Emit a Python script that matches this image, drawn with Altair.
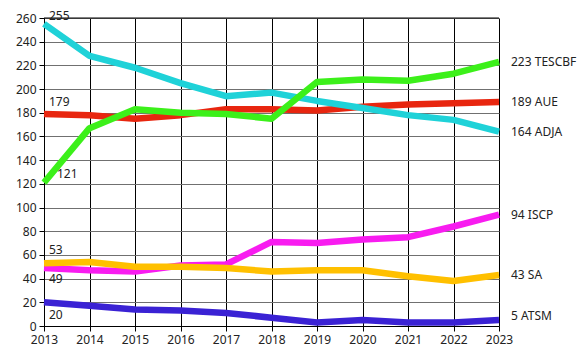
import altair as alt
import pandas as pd

years = list(range(2013, 2024))
series_names = ["ATSM", "ISCP", "SA", "AUE", "ADJA", "TESCBF"]
atsm = [20, 17, 14, 13, 11, 7, 3, 5, 3, 3, 5]
iscp = [49, 47, 46, 51, 52, 71, 70, 73, 75, 84, 94]
sa = [53, 54, 50, 50, 49, 46, 47, 47, 42, 38, 43]
aue = [179, 178, 175, 178, 183, 183, 182, 185, 187, 188, 189]
adja = [255, 228, 218, 205, 194, 197, 190, 184, 178, 174, 164]
tescbf = [121, 167, 183, 180, 179, 175, 206, 208, 207, 213, 223]
values = [atsm, iscp, sa, aue, adja, tescbf]
colors = ["#3a22d4", "#f81cf0", "#ffc000", "#e8260f", "#1fd2d8", "#3cf01a"]
end_labels = ["5 ATSM", "94  ISCP", "43 SA", "189 AUE", "164 ADJA", "223 TESCBF"]
start_labels = ["20", "49", "53", "179", "255", "121"]
y_ticks = list(range(0, 261, 20))
# label offsets (styling only)
start_dx = [5, 5, 5, 5, 5, 13]
start_dy = [13, 11, -13, -12, -8, -9]
end_dy = [-4, 0, 0, 0, 0, 0]

FONT = "Noto Sans"
FS = 12

rows = []
for name, vals in zip(series_names, values):
    for y, v in zip(years, vals):
        rows.append({"series": name, "year": y, "value": v})
df = pd.DataFrame(rows)

xs = alt.Scale(domain=[2013, 2023], nice=False, zero=False)
ys = alt.Scale(domain=[0, 260], nice=False)

x_axis = alt.Axis(
    values=years, format="d", title=None, grid=True, gridColor="#000000",
    gridWidth=1, domainColor="#000000", tickColor="#000000", tickSize=5,
    labelFontSize=FS, labelColor="#222222", labelPadding=3, labelFont=FONT,
    labelFlush=False, labelOverlap=False)
y_axis = alt.Axis(
    values=y_ticks, title=None, grid=True, gridColor="#707070",
    gridWidth=1, domainColor="#000000", tickColor="#000000", tickSize=5,
    labelFontSize=FS, labelColor="#222222", labelPadding=3, labelFont=FONT,
    labelOverlap=False, labelFlush=False)

X = alt.X("year:Q", scale=xs, axis=x_axis)
Y = alt.Y("value:Q", scale=ys, axis=y_axis)

layers = []
for i, name in enumerate(series_names):
    d = df[df.series == name]
    line = alt.Chart(d).mark_line(color=colors[i], strokeWidth=6.5, strokeJoin="round").encode(x=X, y=Y)
    layers.append(line)

# top border
top = alt.Chart(pd.DataFrame({"value": [260]})).mark_rule(color="#000000", strokeWidth=1).encode(y=Y)
layers.append(top)

for i, name in enumerate(series_names):
    vals = values[i]
    s = alt.Chart(pd.DataFrame({"year": [years[0]], "value": [vals[0]], "t": [start_labels[i]]})).mark_text(
        align="left", baseline="middle", dx=start_dx[i], dy=start_dy[i], font=FONT, fontSize=FS,
        color="#222222").encode(x=X, y=Y, text="t:N")
    e = alt.Chart(pd.DataFrame({"year": [years[-1]], "value": [vals[-1]], "t": [end_labels[i]]})).mark_text(
        align="left", baseline="middle", dx=12, dy=end_dy[i], font=FONT, fontSize=FS,
        color="#222222").encode(x=X, y=Y, text="t:N")
    layers.append(s)
    layers.append(e)

chart = alt.layer(*layers).properties(
    width=455, height=308,
    autosize=alt.AutoSizeParams(type="none"),
    padding={"left": 36, "top": 10, "right": 79, "bottom": 27},
    background="#ffffff",
).configure_view(stroke=None)

chart.save("out.html", embed_options={"renderer": "svg", "actions": False})
